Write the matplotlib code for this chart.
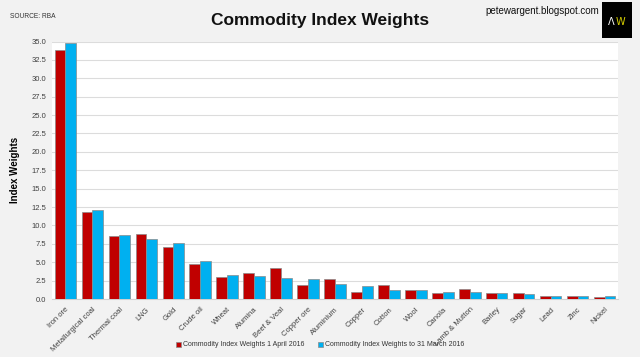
import matplotlib
matplotlib.use("Agg")
import matplotlib.pyplot as plt
import numpy as np
from matplotlib import font_manager

names = {f.name for f in font_manager.fontManager.ttflist}
narrow = "Liberation Sans Narrow" if "Liberation Sans Narrow" in names else "Liberation Sans"

categories = ["Iron ore", "Metallurgical coal", "Thermal coal", "LNG", "Gold", "Crude oil",
              "Wheat", "Alumina", "Beef & Veal", "Copper ore", "Aluminium", "Copper",
              "Cotton", "Wool", "Canola", "Lamb & Mutton", "Barley", "Sugar", "Lead",
              "Zinc", "Nickel"]
weights_2016 = [33.9, 11.87, 8.55, 8.77, 7.05, 4.82, 3.04, 3.5, 4.15, 1.86, 2.78, 1.0,
                1.86, 1.27, 0.77, 1.41, 0.86, 0.77, 0.45, 0.45, 0.22]
weights_prev = [34.75, 12.1, 8.73, 8.09, 7.6, 5.23, 3.32, 3.1, 2.92, 2.74, 2.05, 1.82,
                1.23, 1.18, 1.0, 1.0, 0.77, 0.63, 0.45, 0.45, 0.41]
series_labels = ["Commodity Index Weights 1 April 2016",
                 "Commodity Index Weights to 31 March 2016"]
yticks = np.arange(0, 35.01, 2.5)

RED = "#c00000"
BLUE = "#00b0f0"

fig = plt.figure(figsize=(6.4, 3.57), dpi=100, facecolor="#f2f2f2")
ax = fig.add_axes([52/640, 1 - 299/357, (618-52)/640, (299-41.5)/357])
ax.set_facecolor("white")

x = np.arange(len(categories))
w = 0.4
b1 = ax.bar(x - w/2, weights_2016, width=w, color=RED, edgecolor="#8a8a8a", linewidth=0.5,
            label=series_labels[0], zorder=3)
b2 = ax.bar(x + w/2, weights_prev, width=w, color=BLUE, edgecolor="#8a8a8a", linewidth=0.5,
            label=series_labels[1], zorder=3)

ax.set_xlim(-0.5, len(categories) - 0.5)
ax.set_ylim(0, 35)
ax.set_yticks(yticks)
ax.set_yticklabels([f"{v:.1f}" for v in yticks], fontsize=5.5, color="#404040", family=narrow)
ax.set_xticks(x)
ax.set_xticklabels(categories, rotation=45, ha="right", rotation_mode="anchor",
                   fontsize=5.5, color="#404040", family=narrow)
ax.tick_params(axis="x", length=0, pad=5)
ax.tick_params(axis="y", length=0, pad=4)
ax.grid(axis="y", color="#dcdcdc", linewidth=0.8, zorder=0)
for s in ax.spines.values():
    s.set_visible(False)
ax.spines["bottom"].set_visible(True)
ax.spines["bottom"].set_color("#d0d0d0")

ax.set_ylabel("Index Weights", fontsize=7, fontweight="bold", family="Liberation Sans",
              labelpad=8)

fig.text(0.5, 1 - 20/357, "Commodity Index Weights", ha="center", va="center",
         fontsize=12.5, fontweight="bold", family="Liberation Sans", color="#111111")
fig.text(10/640, 1 - 16/357, "SOURCE: RBA", ha="left", va="center", fontsize=4.8,
         family=narrow, color="#333333")
fig.text(542/640, 1 - 11/357, "petewargent.blogspot.com", ha="center", va="center",
         fontsize=7, family="Liberation Sans", color="#111111")

logo = fig.add_axes([602/640, 1 - 38/357, 30/640, 36/357])
logo.set_facecolor("black")
logo.set_xticks([]); logo.set_yticks([])
for s in logo.spines.values():
    s.set_visible(False)
logo.text(0.32, 0.45, "Λ", color="white", ha="center", va="center", fontsize=7,
          family="DejaVu Sans", transform=logo.transAxes)
logo.text(0.62, 0.45, "W", color="#d8d000", ha="center", va="center", fontsize=7,
          family="DejaVu Sans", transform=logo.transAxes)

fig.legend(handles=[b1, b2], labels=series_labels, loc="center", ncol=2,
           bbox_to_anchor=(0.5, 1 - 345/357), frameon=False,
           prop={"family": narrow, "size": 5.0}, handlelength=0.7, handleheight=0.7,
           handletextpad=0.3, columnspacing=2.0, labelcolor="#333333")

fig.savefig("out.png", dpi=100, facecolor=fig.get_facecolor())
